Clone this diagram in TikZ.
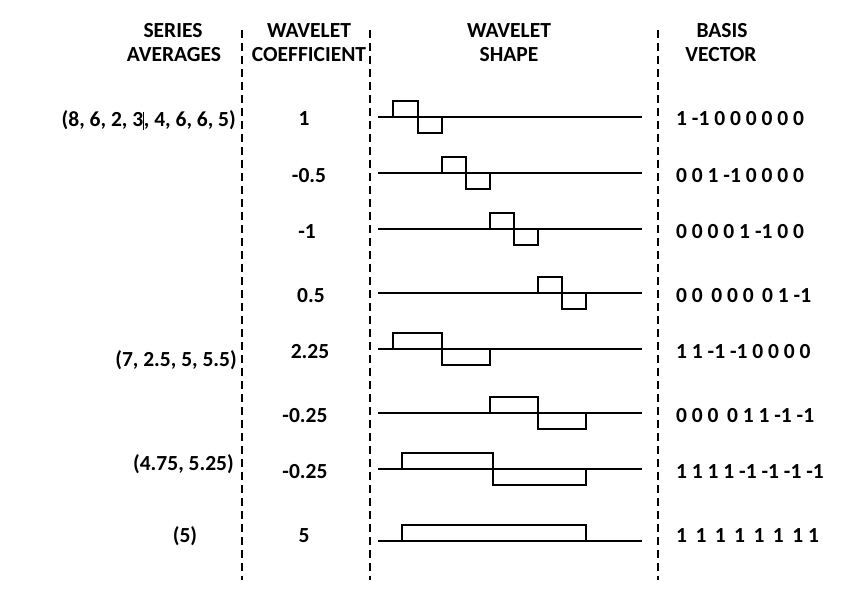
\documentclass[tikz,border=0pt]{standalone}
\usepackage{fontspec}
\setmainfont{Carlito}
\begin{document}
\begin{tikzpicture}[
    x=1pt, y=-1pt,
    cellText/.style={font=\fontsize{21.5}{25}\selectfont\bfseries, inner sep=0pt},
    sepLine/.style={line width=2.2pt, dash pattern=on 8pt off 5pt},
    waveLine/.style={line width=1.6pt},
]
\useasboundingbox (0,0) rectangle (867,591);

% Column headings
\node[cellText, anchor=base] (hSer1) at (173,38) {SERIES};
\node[cellText, anchor=base] (hSer2) at (174,62) {AVERAGES};
\node[cellText, anchor=base] (hCoe1) at (309,38) {WAVELET};
\node[cellText, anchor=base] (hCoe2) at (309,62) {COEFFICIENT};
\node[cellText, anchor=base] (hSha1) at (509,38) {WAVELET};
\node[cellText, anchor=base] (hSha2) at (509,62) {SHAPE};
\node[cellText, anchor=base] (hBas1) at (722,38) {BASIS};
\node[cellText, anchor=base] (hBas2) at (721,62) {VECTOR};

% Column separators
\draw[sepLine] (242,30) -- (242,580);
\draw[sepLine] (370,30) -- (370,580);
\draw[sepLine] (658,30) -- (658,580);

% Series averages
\node[cellText, anchor=base east] (avg1) at (236,127) {(8, 6, 2, 3\rule[-0.15em]{0.7pt}{0.85em}, 4, 6, 6, 5)};
\node[cellText, anchor=base east] (avg2) at (237,366) {(7, 2.5, 5, 5.5)};
\node[cellText, anchor=base east] (avg3) at (234,470) {(4.75, 5.25)};
\node[cellText, anchor=base] (avg4) at (185,542) {(5)};

% Wavelet coefficients
\node[cellText, anchor=base] (coe1) at (304,126) {1};
\node[cellText, anchor=base] (coe2) at (309,182) {-0.5};
\node[cellText, anchor=base] (coe3) at (307,238) {-1};
\node[cellText, anchor=base] (coe4) at (311,302) {0.5};
\node[cellText, anchor=base] (coe5) at (310,358) {2.25};
\node[cellText, anchor=base] (coe6) at (305,422) {-0.25};
\node[cellText, anchor=base] (coe7) at (305,478) {-0.25};
\node[cellText, anchor=base] (coe8) at (304,542) {5};

% Wavelet shapes
\foreach \y/\a/\b/\c in {117/393/418/442, 173/442/466/490, 229/490/514/538,
    293/538/562/586, 349/393/442/490, 413/490/538/586, 469/402/493/586} {
  \draw[waveLine] (378,\y) -- (642,\y);
  \draw[waveLine] (\a,\y) -- (\a,\y-16) -- (\b,\y-16) -- (\b,\y+16)
    -- (\c,\y+16) -- (\c,\y);
}
\draw[waveLine] (378,541) -- (642,541);
\draw[waveLine] (402,541) -- (402,525) -- (586,525) -- (586,541);

% Basis vectors
\node[cellText, anchor=base west] (bas1) at (676,126) {1 -1 0 0 0 0 0 0};
\node[cellText, anchor=base west] (bas2) at (676,182) {0 0 1 -1 0 0 0 0};
\node[cellText, anchor=base west] (bas3) at (676,238) {0 0 0 0 1 -1 0 0};
\node[cellText, anchor=base west] (bas4) at (676,302) {0 0 \,0 0 0 \,0 1 -1};
\node[cellText, anchor=base west] (bas5) at (676,358) {1 1 -1 -1 0 0 0 0};
\node[cellText, anchor=base west] (bas6) at (676,422) {0 0 0 \,0 1 1 -1 -1};
\node[cellText, anchor=base west] (bas7) at (676,478) {1 1 1 1 -1 -1 -1 -1};
\node[cellText, anchor=base west] (bas8) at (676,542) {1 \,1 \,1 \,1 \,1 \,1 \,1 1};
\end{tikzpicture}
\end{document}
